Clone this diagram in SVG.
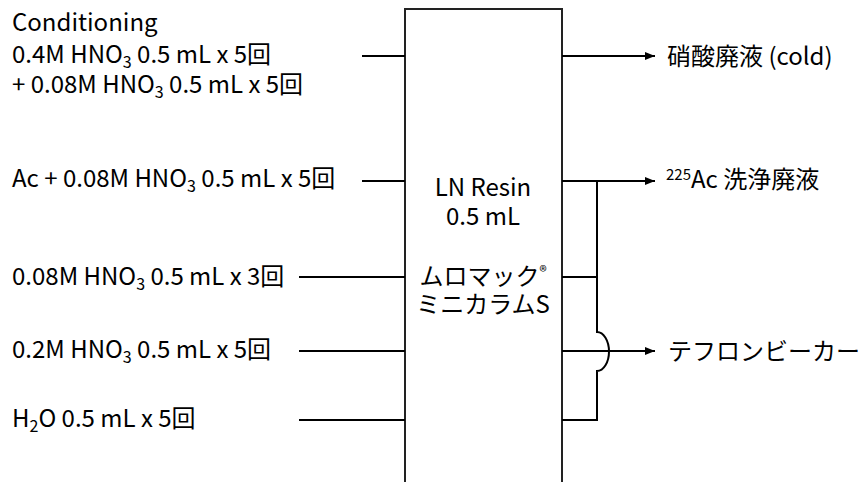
<svg xmlns="http://www.w3.org/2000/svg" width="863" height="482" viewBox="0 0 863 482">
<style>
text{font-family:"Noto Sans CJK JP","Noto Sans",sans-serif;font-size:24px;fill:#000}
.c{text-anchor:middle}
.ln{stroke:#000;stroke-width:2;fill:none}
.sub{font-size:16px}
</style>
<defs>
<marker id="ah" markerWidth="10" markerHeight="8" refX="10" refY="4" orient="auto" markerUnits="userSpaceOnUse">
<path d="M0,0 L10,4 L0,8 Z" fill="#000"/>
</marker>
</defs>
<rect width="863" height="482" fill="#fff"/>
<g id="column">
<rect x="405" y="9" width="157" height="490" fill="#fff" stroke="#222" stroke-width="2"/>
<text class="c" x="483" y="196">LN Resin</text>
<text class="c" x="483" y="225">0.5 mL</text>
<text class="c" x="483" y="285">ムロマック<tspan font-size="15" dy="-8">®</tspan></text>
<text class="c" x="483" y="313">ミニカラムS</text>
</g>
<g id="in1">
<text x="12" y="31">Conditioning</text>
<text x="12" y="63">0.4M HNO<tspan class="sub" dy="5">3</tspan><tspan dy="-5"> 0.5 mL x 5回</tspan></text>
<text x="12" y="93">+ 0.08M HNO<tspan class="sub" dy="5">3</tspan><tspan dy="-5"> 0.5 mL x 5回</tspan></text>
</g>
<g id="in2"><text x="12" y="187">Ac + 0.08M HNO<tspan class="sub" dy="5">3</tspan><tspan dy="-5"> 0.5 mL x 5回</tspan></text></g>
<g id="in3"><text x="12" y="285">0.08M HNO<tspan class="sub" dy="5">3</tspan><tspan dy="-5"> 0.5 mL x 3回</tspan></text></g>
<g id="in4"><text x="12" y="358">0.2M HNO<tspan class="sub" dy="5">3</tspan><tspan dy="-5"> 0.5 mL x 5回</tspan></text></g>
<g id="in5"><text x="12" y="427">H<tspan class="sub" dy="5">2</tspan><tspan dy="-5">O 0.5 mL x 5回</tspan></text></g>
<g id="out1"><text x="667" y="65">硝酸廃液 (cold)</text></g>
<g id="out2"><text x="666" y="188"><tspan font-size="15" dy="-8">225</tspan><tspan dy="8">Ac 洗浄廃液</tspan></text></g>
<g id="out3"><text x="668" y="360">テフロンビーカー</text></g>
<g id="connectors">
<line class="ln" x1="362" y1="56" x2="405" y2="56"/>
<line class="ln" x1="362" y1="181" x2="405" y2="181"/>
<line class="ln" x1="299" y1="277" x2="405" y2="277"/>
<line class="ln" x1="299" y1="351" x2="405" y2="351"/>
<line class="ln" x1="299" y1="420" x2="405" y2="420"/>
<line class="ln" x1="562" y1="56" x2="655" y2="56" marker-end="url(#ah)"/>
<line class="ln" x1="562" y1="181" x2="655" y2="181" marker-end="url(#ah)"/>
<line class="ln" x1="562" y1="351" x2="655" y2="351" marker-end="url(#ah)"/>
<path class="ln" d="M597,181 V332 A12,19.5 0 0 1 597,371 V420 H562"/>
<line class="ln" x1="562" y1="277" x2="597" y2="277"/>
</g>
</svg>
